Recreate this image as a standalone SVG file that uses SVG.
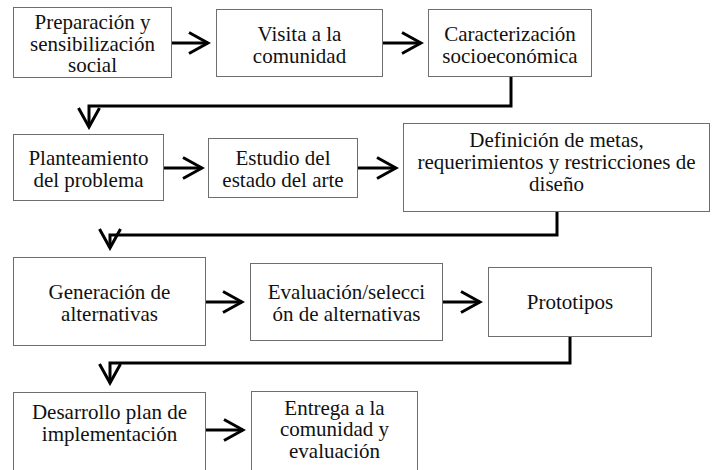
<svg xmlns="http://www.w3.org/2000/svg" width="717" height="470" viewBox="0 0 717 470">
<style>
.box{fill:#fff;stroke:#6e6e6e;stroke-width:1}
text{font-family:'Liberation Serif','Times New Roman',serif;font-size:21px;fill:#111;text-anchor:middle}
.c{fill:none;stroke:#000;stroke-width:3;marker-end:url(#ah)}
</style>
<defs>
<marker id="ah" markerUnits="userSpaceOnUse" markerWidth="24" markerHeight="24" refX="19" refY="11" orient="auto" viewBox="-2 -1 24 24">
<path d="M0,0.5 L19,11 L0,21.5" fill="none" stroke="#000" stroke-width="3"/>
</marker>
</defs>
<rect width="717" height="470" fill="#fff"/>
<g id="n1"><rect class="box" x="13.5" y="7.5" width="158" height="70"/><text x="92.5" y="29">Preparación y</text><text x="92.5" y="50.5">sensibilización</text><text x="92.5" y="72">social</text></g>
<g id="n2"><rect class="box" x="216.5" y="9.5" width="166" height="67"/><text x="299.5" y="40.5">Visita a la</text><text x="299.5" y="62.5">comunidad</text></g>
<g id="n3"><rect class="box" x="428.5" y="9.5" width="163" height="67"/><text x="510" y="40.5">Caracterización</text><text x="510" y="62.5">socioeconómica</text></g>
<g id="n4"><rect class="box" x="13.5" y="134.5" width="150" height="66"/><text x="88.5" y="165">Planteamiento</text><text x="88.5" y="187">del problema</text></g>
<g id="n5"><rect class="box" x="208.5" y="138.5" width="149" height="59"/><text x="283" y="165">Estudio del</text><text x="283" y="187">estado del arte</text></g>
<g id="n6"><rect class="box" x="403.5" y="123.5" width="306" height="88"/><text x="556.5" y="147">Definición de metas,</text><text x="556.5" y="169">requerimientos y restricciones de</text><text x="556.5" y="191">diseño</text></g>
<g id="n7"><rect class="box" x="13.5" y="257.5" width="192" height="88"/><text x="109.5" y="299">Generación de</text><text x="109.5" y="320.5">alternativas</text></g>
<g id="n8"><rect class="box" x="250.5" y="263.5" width="192" height="77"/><text x="346.5" y="299">Evaluación/selecci</text><text x="346.5" y="320.5">ón de alternativas</text></g>
<g id="n9"><rect class="box" x="488.5" y="267.5" width="163" height="69"/><text x="570" y="309">Prototipos</text></g>
<g id="n10"><rect class="box" x="13.5" y="392.5" width="192" height="90"/><text x="109.5" y="419">Desarrollo plan de</text><text x="109.5" y="440.5">implementación</text></g>
<g id="n11"><rect class="box" x="251.5" y="391.5" width="166" height="90"/><text x="334.5" y="414.5">Entrega a la</text><text x="334.5" y="436">comunidad y</text><text x="334.5" y="457.5">evaluación</text></g>
<g id="connectors">
<path class="c" d="M172,43 H208"/>
<path class="c" d="M383,43 H421"/>
<path class="c" d="M511,77 V106 H89 V127"/>
<path class="c" d="M164,168 H202"/>
<path class="c" d="M358,168 H396"/>
<path class="c" d="M557,212 V235 H110 V248"/>
<path class="c" d="M206,302 H242"/>
<path class="c" d="M443,302 H480"/>
<path class="c" d="M570,337 V363 H110 V383"/>
<path class="c" d="M206,430 H243"/>
</g>
</svg>
